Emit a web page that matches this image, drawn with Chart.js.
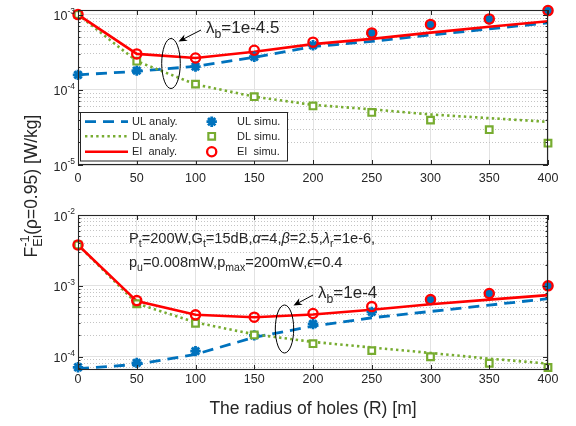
<!DOCTYPE html>
<html>
<head>
<meta charset="utf-8">
<script src="https://cdn.jsdelivr.net/npm/chart.js@4.4.1/dist/chart.umd.min.js"></script>
<style>
  html, body { margin: 0; padding: 0; background: #ffffff; }
  #wrap { position: relative; width: 576px; height: 426px; }
  #wrap canvas { position: absolute; left: 0; top: 0; }
</style>
</head>
<body>
<div id="wrap">
  <canvas id="upper" width="576" height="426"></canvas>
  <canvas id="lower" width="576" height="426"></canvas>
</div>
<script>
// Hole radius R [m]
const RADII = [0, 50, 100, 150, 200, 250, 300, 350, 400];

// lambda_b = 1e-4.5
const ulAnalyA = [1.58e-4, 1.76e-4, 2.05e-4, 2.70e-4, 3.75e-4, 4.40e-4, 5.35e-4, 6.45e-4, 7.75e-4];
const dlAnalyA = [1.00e-3, 2.40e-4, 1.18e-4, 8.10e-5, 6.30e-5, 5.50e-5, 4.70e-5, 4.20e-5, 3.75e-5];
const eiAnalyA = [1.00e-3, 3.00e-4, 2.65e-4, 3.20e-4, 4.05e-4, 4.75e-4, 5.75e-4, 6.90e-4, 8.15e-4];
const ulSimuA  = [1.58e-4, 1.80e-4, 2.03e-4, 2.75e-4, 3.90e-4, 5.60e-4, 7.30e-4, 8.65e-4, 1.12e-3];
const dlSimuA  = [1.00e-3, 2.40e-4, 1.19e-4, 8.10e-5, 6.10e-5, 5.00e-5, 3.95e-5, 2.95e-5, 1.95e-5];
const eiSimuA  = [1.00e-3, 3.00e-4, 2.65e-4, 3.35e-4, 4.30e-4, 5.70e-4, 7.40e-4, 8.75e-4, 1.13e-3];

// lambda_b = 1e-4
const ulAnalyB = [6.80e-5, 7.80e-5, 1.08e-4, 1.88e-4, 2.70e-4, 3.55e-4, 4.35e-4, 5.35e-4, 6.60e-4];
const dlAnalyB = [3.78e-3, 5.65e-4, 3.05e-4, 2.07e-4, 1.62e-4, 1.35e-4, 1.13e-4, 9.40e-5, 8.00e-5];
const eiAnalyB = [3.78e-3, 6.10e-4, 3.92e-4, 3.60e-4, 3.95e-4, 4.60e-4, 5.50e-4, 6.40e-4, 7.40e-4];
const ulSimuB  = [7.10e-5, 8.20e-5, 1.20e-4, 2.00e-4, 2.90e-4, 4.30e-4, 6.30e-4, 7.80e-4, 1.00e-3];
const dlSimuB  = [3.78e-3, 5.60e-4, 2.97e-4, 2.03e-4, 1.53e-4, 1.22e-4, 1.00e-4, 8.10e-5, 7.05e-5];
const eiSimuB  = [3.78e-3, 6.20e-4, 3.90e-4, 3.62e-4, 4.08e-4, 5.10e-4, 6.40e-4, 7.80e-4, 1.00e-3];

// Axis limits
const X_RANGE = [0, 400];
const X_STEP = 50;
const Y_RANGE_A = [1e-5, 1.15e-3];
const Y_RANGE_B = [6.5e-5, 1e-2];

const FONT = '"Liberation Sans", Arial, Helvetica, sans-serif';
const INK = '#262626';
const BLUE = '#0072BD', GREEN = '#77AC30', RED = '#FF0000';

const STYLE = {
  ul: { color: BLUE, dash: [11, 7], width: 2.8 },
  dl: { color: GREEN, dash: [2.4, 3.2], width: 2.6 },
  ei: { color: RED, dash: [], width: 2.6 },
  ulMark: { pointStyle: 'star', radius: 5.2, bw: 2.8, fill: BLUE },
  dlMark: { pointStyle: 'rect', radius: 4.7, bw: 2.2, fill: '#ffffff' },
  eiMark: { pointStyle: 'circle', radius: 4.6, bw: 2.3, fill: 'rgba(0,0,0,0)' }
};

function pts(ys) { return RADII.map((x, i) => ({ x: x, y: ys[i] })); }

function analyLine(label, ys, st, order) {
  return {
    label, data: pts(ys), order,
    borderColor: st.color, borderWidth: st.width, borderDash: st.dash,
    borderCapStyle: 'butt', borderJoinStyle: 'miter',
    pointRadius: 0, fill: false, tension: 0
  };
}

function simuMarks(label, ys, color, mk, order) {
  return {
    label, data: pts(ys), order, showLine: false, clip: false,
    pointStyle: mk.pointStyle, pointRadius: mk.radius, pointBorderWidth: mk.bw,
    pointBorderColor: color, pointBackgroundColor: mk.fill,
    borderColor: color, backgroundColor: mk.fill
  };
}

function isDecade(v) { const l = Math.log10(v); return Math.abs(l - Math.round(l)) < 1e-6; }

function logTicks(min, max) {
  const out = [];
  for (let e = Math.floor(Math.log10(min)); e <= Math.ceil(Math.log10(max)); e++) {
    for (let m = 1; m < 10; m++) {
      const v = Number((m * Math.pow(10, e)).toPrecision(6));
      if (v >= min * 0.9999 && v <= max * 1.0001) out.push(v);
    }
  }
  return out;
}

// Rich text: parts are {t, sub, sup, it}; a stack part puts sup and sub at the same x.
function partFont(p, size) {
  const small = (p.sub || p.sup);
  return (p.it ? 'italic ' : '') + (small ? size * 0.72 : size) + 'px ' + FONT;
}
function richWidth(ctx, parts, size) {
  let w = 0;
  for (const p of parts) {
    if (p.stack) {
      ctx.font = size * 0.72 + 'px ' + FONT;
      w += Math.max(ctx.measureText(p.sup).width, ctx.measureText(p.sub).width);
    } else {
      ctx.font = partFont(p, size);
      w += ctx.measureText(p.t).width;
    }
  }
  return w;
}
function drawRich(ctx, parts, x, y, size, align) {
  let cx = x;
  const w = richWidth(ctx, parts, size);
  if (align === 'center') cx = x - w / 2;
  else if (align === 'right') cx = x - w;
  ctx.textAlign = 'left';
  ctx.textBaseline = 'alphabetic';
  for (const p of parts) {
    if (p.stack) {
      ctx.font = size * 0.72 + 'px ' + FONT;
      ctx.fillText(p.sup, cx, y - size * 0.45);
      ctx.fillText(p.sub, cx, y + size * 0.3);
      cx += Math.max(ctx.measureText(p.sup).width, ctx.measureText(p.sub).width);
      continue;
    }
    ctx.font = partFont(p, size);
    const dy = p.sub ? size * 0.3 : (p.sup ? -size * 0.45 : 0);
    ctx.fillText(p.t, cx, y + dy);
    cx += ctx.measureText(p.t).width;
  }
}

function drawArrow(ctx, x0, y0, x1, y1) {
  const dx = x1 - x0, dy = y1 - y0, L = Math.hypot(dx, dy);
  const ux = dx / L, uy = dy / L, nx = -uy, ny = ux;
  const hl = 8.5, hw = 3.6;
  ctx.strokeStyle = '#000'; ctx.fillStyle = '#000'; ctx.lineWidth = 1;
  ctx.beginPath(); ctx.moveTo(x0, y0); ctx.lineTo(x1 - ux * 5, y1 - uy * 5); ctx.stroke();
  ctx.beginPath();
  ctx.moveTo(x1, y1);
  ctx.lineTo(x1 - ux * hl + nx * hw, y1 - uy * hl + ny * hw);
  ctx.lineTo(x1 - ux * hl * 0.7, y1 - uy * hl * 0.7);
  ctx.lineTo(x1 - ux * hl - nx * hw, y1 - uy * hl - ny * hw);
  ctx.closePath(); ctx.fill();
}

function drawEllipse(ctx, cx, cy, rx, ry) {
  ctx.strokeStyle = '#000'; ctx.lineWidth = 1;
  ctx.beginPath(); ctx.ellipse(cx, cy, rx, ry, 0, 0, Math.PI * 2); ctx.stroke();
}

function lambdaLabel(exp) {
  return [{ t: 'λ' }, { t: 'b', sub: true }, { t: '=' + exp }];
}

// Box, inward ticks and tick labels for one panel, then panel extras
function axesDecor(xLabelMid, extras) {
  return {
    id: 'axesDecor',
    afterDatasetsDraw(chart) {
      const ctx = chart.ctx, a = chart.chartArea;
      const xs = chart.scales.x, ys = chart.scales.y;
      ctx.save();
      ctx.strokeStyle = INK; ctx.lineWidth = 1;
      ctx.beginPath();
      xs.ticks.forEach(t => {
        const px = Math.round(xs.getPixelForValue(t.value)) + 0.5;
        ctx.moveTo(px, a.bottom); ctx.lineTo(px, a.bottom - 5);
        ctx.moveTo(px, a.top); ctx.lineTo(px, a.top + 5);
      });
      ys.ticks.forEach(t => {
        const py = Math.round(ys.getPixelForValue(t.value)) + 0.5;
        const len = isDecade(t.value) ? 5 : 2.5;
        ctx.moveTo(a.left, py); ctx.lineTo(a.left + len, py);
        ctx.moveTo(a.right, py); ctx.lineTo(a.right - len, py);
      });
      ctx.stroke();
      ctx.lineWidth = 1.1;
      ctx.strokeRect(a.left + 0.5, a.top + 0.5, a.right - a.left - 1, a.bottom - a.top - 1);

      ctx.fillStyle = INK;
      ctx.font = '12.5px ' + FONT;
      ctx.textAlign = 'center'; ctx.textBaseline = 'middle';
      xs.ticks.forEach(t => ctx.fillText(String(t.value), xs.getPixelForValue(t.value), xLabelMid));
      ys.ticks.forEach(t => {
        if (!isDecade(t.value)) return;
        const py = ys.getPixelForValue(t.value);
        const e = Math.round(Math.log10(t.value));
        ctx.font = '8.5px ' + FONT;
        const wSup = ctx.measureText(String(e)).width;
        ctx.font = '12.5px ' + FONT;
        const w10 = ctx.measureText('10').width;
        const right = a.left - 3;
        ctx.textAlign = 'left'; ctx.textBaseline = 'alphabetic';
        ctx.fillText('10', right - wSup - w10, py + 5.5);
        ctx.font = '8.5px ' + FONT;
        ctx.fillText(String(e), right - wSup, py - 1);
      });
      extras(ctx, chart);
      ctx.restore();
    }
  };
}

function makePanel(canvasId, yRange, padTop, padBottom, sets, xLabelMid, extras) {
  return new Chart(document.getElementById(canvasId), {
    type: 'line',
    data: {
      datasets: [
        simuMarks('EI simu.', sets.eiS, RED, STYLE.eiMark, 0),
        simuMarks('DL simu.', sets.dlS, GREEN, STYLE.dlMark, 1),
        simuMarks('UL simu.', sets.ulS, BLUE, STYLE.ulMark, 2),
        analyLine('EI analy.', sets.eiA, STYLE.ei, 3),
        analyLine('DL analy.', sets.dlA, STYLE.dl, 4),
        analyLine('UL analy.', sets.ulA, STYLE.ul, 5)
      ]
    },
    options: {
      responsive: false, animation: false, events: [],
      devicePixelRatio: 1,
      layout: { padding: { left: 78, right: 28, top: padTop, bottom: padBottom } },
      plugins: { legend: { display: false }, tooltip: { enabled: false } },
      scales: {
        x: {
          type: 'linear', min: X_RANGE[0], max: X_RANGE[1],
          ticks: { display: false, stepSize: X_STEP },
          grid: { color: '#e2e2e2', lineWidth: 1, drawTicks: false },
          border: { display: false },
          afterFit: s => { s.height = 0; }
        },
        y: {
          type: 'logarithmic', min: yRange[0], max: yRange[1],
          ticks: { display: false },
          afterBuildTicks: s => { s.ticks = logTicks(yRange[0], yRange[1]).map(v => ({ value: v })); },
          grid: {
            drawTicks: false, lineWidth: 1,
            color: c => (c.tick && isDecade(c.tick.value)) ? '#e2e2e2' : '#c4c4c4'
          },
          border: {
            display: false,
            dash: c => (c.tick && !isDecade(c.tick.value)) ? [1, 2] : []
          },
          afterFit: s => { s.width = 0; }
        }
      }
    },
    plugins: [axesDecor(xLabelMid, extras)]
  });
}

function drawLegend(ctx) {
  const box = { x: 80.5, y: 112.5, w: 207, h: 48.5 };
  ctx.fillStyle = '#ffffff';
  ctx.fillRect(box.x, box.y, box.w, box.h);
  ctx.strokeStyle = INK; ctx.lineWidth = 1;
  ctx.strokeRect(box.x, box.y, box.w, box.h);
  const rows = [
    { y: 121.7, line: STYLE.ul, mk: STYLE.ulMark, color: BLUE, a: 'UL analy.', s: 'UL simu.' },
    { y: 136.3, line: STYLE.dl, mk: STYLE.dlMark, color: GREEN, a: 'DL analy.', s: 'DL simu.' },
    { y: 151.7, line: STYLE.ei, mk: STYLE.eiMark, color: RED, a: 'EI  analy.', s: 'EI  simu.' }
  ];
  rows.forEach(r => {
    ctx.strokeStyle = r.line.color; ctx.lineWidth = r.line.width; ctx.lineCap = 'butt';
    ctx.setLineDash(r.line.dash);
    ctx.beginPath(); ctx.moveTo(85, r.y); ctx.lineTo(128, r.y); ctx.stroke();
    ctx.setLineDash([]);
    ctx.strokeStyle = r.color; ctx.fillStyle = r.mk.fill; ctx.lineWidth = r.mk.bw;
    Chart.helpers.drawPoint(ctx, { pointStyle: r.mk.pointStyle, radius: r.mk.radius, borderWidth: r.mk.bw, rotation: 0 }, 211.7, r.y);
    ctx.fillStyle = INK; ctx.font = '11px ' + FONT;
    ctx.textAlign = 'left'; ctx.textBaseline = 'middle';
    ctx.fillText(r.a, 132, r.y + 0.5);
    ctx.fillText(r.s, 237, r.y + 0.5);
  });
}

makePanel('upper', Y_RANGE_A, 10, 261,
  { ulA: ulAnalyA, dlA: dlAnalyA, eiA: eiAnalyA, ulS: ulSimuA, dlS: dlSimuA, eiS: eiSimuA },
  178.5,
  ctx => {
    drawLegend(ctx);
    drawEllipse(ctx, 171, 63.5, 9.3, 25);
    drawArrow(ctx, 201, 30, 178.5, 41.5);
    ctx.fillStyle = INK;
    drawRich(ctx, lambdaLabel('1e-4.5'), 206, 33.3, 17, 'left');
  });

makePanel('lower', Y_RANGE_B, 215, 56,
  { ulA: ulAnalyB, dlA: dlAnalyB, eiA: eiAnalyB, ulS: ulSimuB, dlS: dlSimuB, eiS: eiSimuB },
  379.5,
  ctx => {
    ctx.fillStyle = INK;
    drawRich(ctx, [
      { t: 'P' }, { t: 't', sub: true }, { t: '=200W,G' }, { t: 't', sub: true }, { t: '=15dB,' },
      { t: 'α', it: true }, { t: '=4,' }, { t: 'β', it: true }, { t: '=2.5,' },
      { t: 'λ', it: true }, { t: 'r', sub: true }, { t: '=1e-6,' }
    ], 129, 242.5, 14.6, 'left');
    drawRich(ctx, [
      { t: 'p' }, { t: 'u', sub: true }, { t: '=0.008mW,p' }, { t: 'max', sub: true },
      { t: '=200mW,' }, { t: 'ϵ', it: true }, { t: '=0.4' }
    ], 129, 266.5, 14.6, 'left');
    drawEllipse(ctx, 284.5, 329, 9.2, 24);
    drawArrow(ctx, 313, 295, 293.5, 305.5);
    ctx.fillStyle = INK;
    drawRich(ctx, lambdaLabel('1e-4'), 318, 298, 17, 'left');

    // Shared axis titles
    ctx.fillStyle = INK;
    drawRich(ctx, [{ t: 'The radius of holes (R) [m]' }], 313, 414, 17.5, 'center');
    ctx.save();
    ctx.translate(37, 186);
    ctx.rotate(-Math.PI / 2);
    drawRich(ctx, [{ t: 'F' }, { stack: true, sup: '-1', sub: 'EI' }, { t: '(ρ=0.95) [W/kg]' }], 0, 0, 17.5, 'center');
    ctx.restore();
  });
</script>
</body>
</html>
